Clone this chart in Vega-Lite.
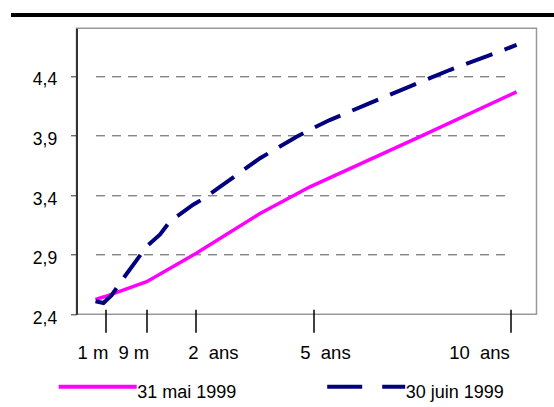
{
  "$schema": "https://vega.github.io/schema/vega-lite/v6.json",
  "width": 460,
  "height": 286,
  "autosize": "none",
  "padding": {"left": 76.5, "top": 28.3, "right": 17.5, "bottom": 92.7},
  "config": {
    "font": "Liberation Sans",
    "view": {"stroke": "#999999", "strokeWidth": 1.5},
    "axis": {"labelFont": "Liberation Sans", "labelColor": "#000000"},
    "legend": {"labelFont": "Liberation Sans", "labelColor": "#000000"}
  },
  "data": {
    "values": [
      {"serie": "31 mai 1999", "maturite": 0, "taux": 2.525},
      {"serie": "31 mai 1999", "maturite": 0.0833, "taux": 2.549},
      {"serie": "31 mai 1999", "maturite": 0.75, "taux": 2.673},
      {"serie": "31 mai 1999", "maturite": 2.02, "taux": 2.914},
      {"serie": "31 mai 1999", "maturite": 3.63, "taux": 3.246},
      {"serie": "31 mai 1999", "maturite": 4.9, "taux": 3.47},
      {"serie": "31 mai 1999", "maturite": 7.78, "taux": 3.904},
      {"serie": "31 mai 1999", "maturite": 10.15, "taux": 4.267},
      {"serie": "30 juin 1999", "maturite": 0, "taux": 2.51},
      {"serie": "30 juin 1999", "maturite": 0.07, "taux": 2.495},
      {"serie": "30 juin 1999", "maturite": 0.19, "taux": 2.56},
      {"serie": "30 juin 1999", "maturite": 0.32, "taux": 2.66},
      {"serie": "30 juin 1999", "maturite": 0.43, "taux": 2.74},
      {"serie": "30 juin 1999", "maturite": 0.59, "taux": 2.855},
      {"serie": "30 juin 1999", "maturite": 0.75, "taux": 2.97},
      {"serie": "30 juin 1999", "maturite": 1.09, "taux": 3.07},
      {"serie": "30 juin 1999", "maturite": 1.34, "taux": 3.18},
      {"serie": "30 juin 1999", "maturite": 1.93, "taux": 3.32},
      {"serie": "30 juin 1999", "maturite": 2.19, "taux": 3.37},
      {"serie": "30 juin 1999", "maturite": 2.53, "taux": 3.45},
      {"serie": "30 juin 1999", "maturite": 2.87, "taux": 3.53},
      {"serie": "30 juin 1999", "maturite": 3.12, "taux": 3.59},
      {"serie": "30 juin 1999", "maturite": 3.63, "taux": 3.71},
      {"serie": "30 juin 1999", "maturite": 4.56, "taux": 3.89},
      {"serie": "30 juin 1999", "maturite": 4.9, "taux": 3.95},
      {"serie": "30 juin 1999", "maturite": 5.4, "taux": 4.03},
      {"serie": "30 juin 1999", "maturite": 6.33, "taux": 4.16},
      {"serie": "30 juin 1999", "maturite": 7.35, "taux": 4.3},
      {"serie": "30 juin 1999", "maturite": 8.45, "taux": 4.45},
      {"serie": "30 juin 1999", "maturite": 9.47, "taux": 4.575},
      {"serie": "30 juin 1999", "maturite": 10.15, "taux": 4.66}
    ]
  },
  "layer": [
    {
      "transform": [{"filter": "datum.serie == '31 mai 1999'"}],
      "mark": {"type": "line", "strokeWidth": 3.5},
      "encoding": {
        "x": {
          "field": "maturite",
          "type": "quantitative",
          "scale": {"type": "linear", "domain": [0, 0.08333, 0.75, 10], "range": [19, 28.5, 70.2, 434.2], "zero": false, "nice": false},
          "axis": {
            "title": null,
            "values": [0.08333, 0.75, 2, 5, 10],
            "labelExpr": "datum.value < 0.1 ? '1 m' : datum.value < 1 ? '9 m' : datum.value < 3 ? '2\u00a0\u00a0ans' : datum.value < 6 ? '5\u00a0\u00a0ans' : '10\u00a0\u00a0ans'",
            "domain": false,
            "grid": false,
            "ticks": true,
            "tickColor": "#000000",
            "tickWidth": 1.5,
            "tickSize": 23,
            "offset": -5,
            "labelPadding": 11.5,
            "labelFontSize": 18.5,
            "labelFlush": false,
            "labelOverlap": false,
            "labelAlign": "center",
            "labelOffset": {
              "condition": [
                {"test": "datum.value < 0.1", "value": -12.5},
                {"test": "datum.value < 1", "value": -13.4},
                {"test": "datum.value < 3", "value": 17},
                {"test": "datum.value < 6", "value": 11}
              ],
              "value": -31.7
            }
          }
        },
        "y": {
          "field": "taux",
          "type": "quantitative",
          "scale": {"domain": [2.4, 4.8], "zero": false, "nice": false},
          "axis": {
            "title": null,
            "values": [2.4, 2.9, 3.4, 3.9, 4.4],
            "labelExpr": "replace(format(datum.value, '.1f'), '.', ',')",
            "grid": true,
            "gridColor": "#555555",
            "gridDash": [9, 7],
            "gridWidth": 1,
            "gridOpacity": {"condition": {"test": "datum.value < 2.5", "value": 0}, "value": 1},
            "domainColor": "#333333",
            "domainWidth": 2,
            "tickColor": "#333333",
            "tickSize": 6,
            "labelPadding": 13.8,
            "labelFontSize": 17.5,
            "labelOffset": 4
          }
        },
        "color": {
          "field": "serie",
          "type": "nominal",
          "scale": {"domain": ["31 mai 1999", "30 juin 1999"], "range": ["#FF00FF", "#000080"]},
          "legend": {
            "orient": "none",
            "legendX": -19.8,
            "legendY": 317.5,
            "direction": "horizontal",
            "title": null,
            "symbolType": "stroke",
            "symbolSize": 6084,
            "symbolStrokeWidth": 4,
            "labelFontSize": 18,
            "labelOffset": -1.5,
            "columnPadding": 82.5,
            "padding": 0,
            "encode": {
              "symbols": {"update": {"strokeDash": {"signal": "datum.value == '30 juin 1999' ? [35, 20] : [1, 0]"}}},
              "labels": {"update": {"dy": {"value": 6}}}
            }
          }
        }
      }
    },
    {
      "transform": [{"filter": "datum.serie == '30 juin 1999'"}],
      "mark": {"type": "line", "strokeWidth": 4, "strokeDash": [28, 13]},
      "encoding": {
        "x": {"field": "maturite", "type": "quantitative"},
        "y": {"field": "taux", "type": "quantitative"},
        "color": {"field": "serie", "type": "nominal"}
      }
    },
    {
      "mark": {"type": "rule", "color": "#000000", "strokeWidth": 3},
      "encoding": {
        "x": {"datum": -0.741, "type": "quantitative"},
        "x2": {"datum": 12},
        "y": {"datum": 4.912, "type": "quantitative"}
      }
    }
  ]
}
